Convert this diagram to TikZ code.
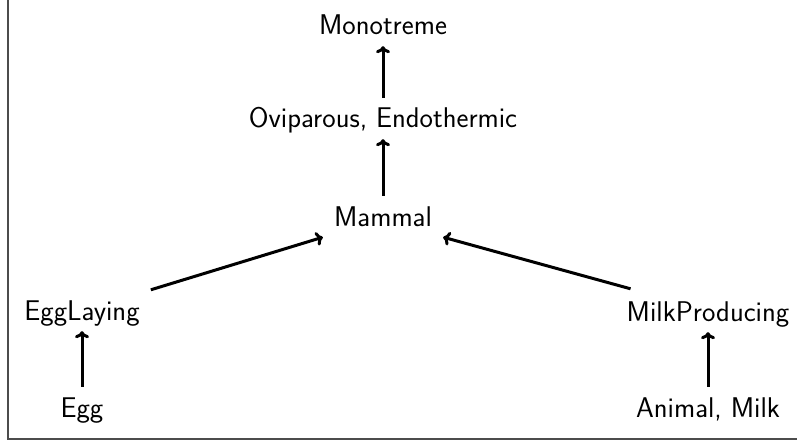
\documentclass[tikz,border=0pt]{standalone}
\usetikzlibrary{arrows.meta}
\begin{document}
\begin{tikzpicture}[x=1pt,y=-1pt,
  lbl/.style={font=\sffamily\fontsize{28.5}{32}\selectfont, text height=19pt, text depth=0pt, inner xsep=11pt, inner ysep=11pt, anchor=base},
  arr/.style={line width=3pt, -{To[length=7pt,width=14pt]}},
  frame/.style={line width=2pt, draw=black!70}]
\useasboundingbox (0,0) rectangle (797,441);
\draw[frame] (7.5,0) -- (7.5,438.5) -- (797,438.5);
\node[lbl] (mono) at (383,35) {Monotreme};
\node[lbl] (ovi) at (383,128) {Oviparous, Endothermic};
\node[lbl] (mam) at (383,226) {Mammal};
\node[lbl] (egl) at (82,320) {EggLaying};
\node[lbl] (milk) at (708,321) {MilkProducing};
\node[lbl] (egg) at (82,417) {Egg};
\node[lbl] (am) at (708,417) {Animal, Milk};
\draw[arr] (ovi) -- (mono);
\draw[arr] (mam) -- (ovi);
\draw[arr] (egl.north east) -- (mam.south west);
\draw[arr] ([xshift=15pt,yshift=2pt]milk.north west) -- (mam.south east);
\draw[arr] (egg) -- (egl);
\draw[arr] (am) -- (milk);
\end{tikzpicture}
\end{document}
